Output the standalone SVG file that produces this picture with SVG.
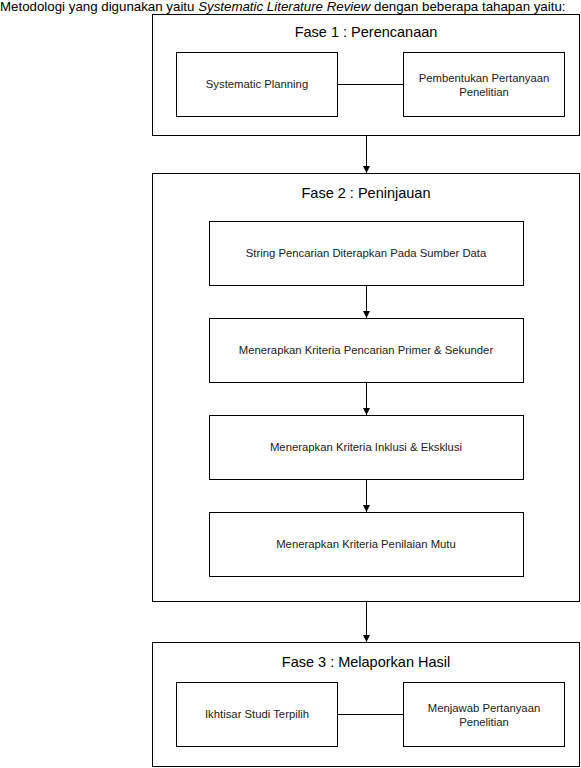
<svg xmlns="http://www.w3.org/2000/svg" width="581" height="768" viewBox="0 0 581 768">
<defs>
<marker id="arr" viewBox="0 0 10 10" refX="10" refY="5" markerWidth="7" markerHeight="7" markerUnits="userSpaceOnUse" orient="auto">
<path d="M0,0 L10,5 L0,10 Z" fill="#000"/>
</marker>
</defs>
<style>
.box{fill:#fff;stroke:#000;stroke-width:1}
.t{font-family:"Liberation Sans",Arial,sans-serif;font-size:11.3px;fill:#222;text-anchor:middle}
.h{font-family:"Liberation Sans",Arial,sans-serif;font-size:14.5px;fill:#000;text-anchor:middle}
.c{font-family:"Liberation Sans",Arial,sans-serif;font-size:13.3px;fill:#000}
.ln{stroke:#000;stroke-width:1;fill:none}
</style>
<rect width="581" height="768" fill="#fff"/>
<text class="c" x="0" y="11">Metodologi yang digunakan yaitu <tspan font-style="italic">Systematic Literature Review</tspan> dengan beberapa tahapan yaitu:</text>
<g id="fase1">
<rect class="box" x="152.5" y="14.5" width="427" height="121"/>
<text class="h" x="366" y="37">Fase 1 : Perencanaan</text>
</g>
<g id="fase2">
<rect class="box" x="152.5" y="173.5" width="427" height="428"/>
<text class="h" x="366" y="198">Fase 2 : Peninjauan</text>
</g>
<g id="fase3">
<rect class="box" x="152.5" y="642.5" width="427" height="124"/>
<text class="h" x="366" y="667">Fase 3 : Melaporkan Hasil</text>
</g>
<g id="n-planning">
<rect class="box" x="176.5" y="52.5" width="161" height="64"/>
<text class="t" x="257" y="88">Systematic Planning</text>
</g>
<g id="n-pembentukan">
<rect class="box" x="403.5" y="52.5" width="161" height="64"/>
<text class="t" x="484" y="82">Pembentukan Pertanyaan</text>
<text class="t" x="484" y="96">Penelitian</text>
</g>
<g id="n-string">
<rect class="box" x="209.5" y="221.5" width="314" height="64"/>
<text class="t" x="366" y="257">String Pencarian Diterapkan Pada Sumber Data</text>
</g>
<g id="n-primer">
<rect class="box" x="209.5" y="318.5" width="314" height="64"/>
<text class="t" x="366" y="354">Menerapkan Kriteria Pencarian Primer &amp; Sekunder</text>
</g>
<g id="n-inklusi">
<rect class="box" x="209.5" y="415.5" width="314" height="64"/>
<text class="t" x="366" y="451">Menerapkan Kriteria Inklusi &amp; Eksklusi</text>
</g>
<g id="n-mutu">
<rect class="box" x="209.5" y="512.5" width="314" height="64"/>
<text class="t" x="366" y="548">Menerapkan Kriteria Penilaian Mutu</text>
</g>
<g id="n-ikhtisar">
<rect class="box" x="176.5" y="682.5" width="161" height="64"/>
<text class="t" x="257" y="718">Ikhtisar Studi Terpilih</text>
</g>
<g id="n-menjawab">
<rect class="box" x="403.5" y="682.5" width="161" height="64"/>
<text class="t" x="484" y="712">Menjawab Pertanyaan</text>
<text class="t" x="484" y="726">Penelitian</text>
</g>
<g id="connectors">
<line class="ln" x1="337.5" y1="84.5" x2="403.5" y2="84.5"/>
<line class="ln" x1="337.5" y1="714.5" x2="403.5" y2="714.5"/>
<line class="ln" x1="366.5" y1="136" x2="366.5" y2="173" marker-end="url(#arr)"/>
<line class="ln" x1="366.5" y1="286" x2="366.5" y2="318" marker-end="url(#arr)"/>
<line class="ln" x1="366.5" y1="383" x2="366.5" y2="415" marker-end="url(#arr)"/>
<line class="ln" x1="366.5" y1="480" x2="366.5" y2="512" marker-end="url(#arr)"/>
<line class="ln" x1="366.5" y1="602" x2="366.5" y2="642" marker-end="url(#arr)"/>
</g>
</svg>
